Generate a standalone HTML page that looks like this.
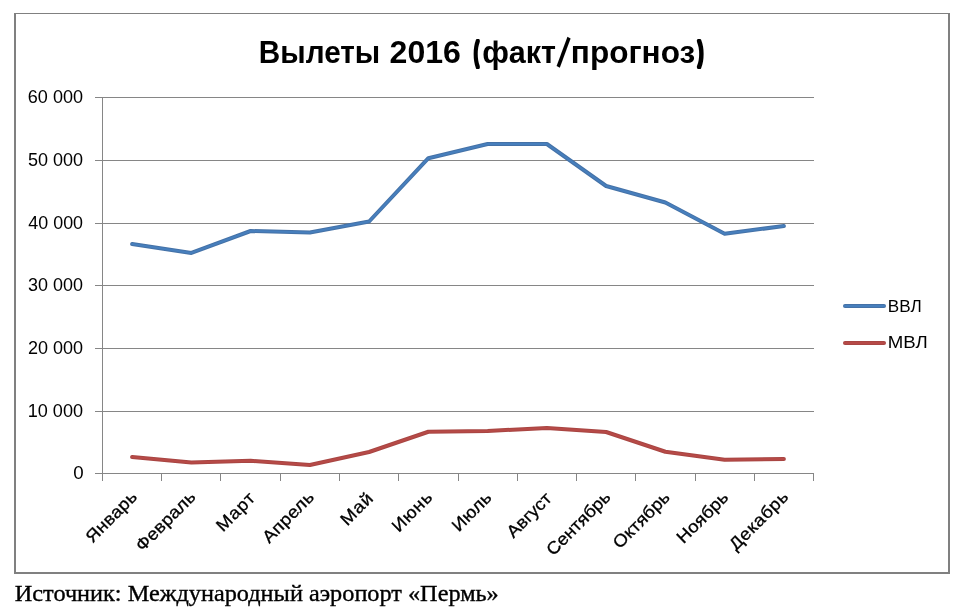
<!DOCTYPE html>
<html lang="ru">
<head>
<meta charset="utf-8">
<title>Вылеты 2016 (факт/прогноз)</title>
<style>
html,body{margin:0;padding:0;background:#fff;}
body{width:960px;height:611px;overflow:hidden;position:relative;}
svg{position:absolute;left:0;top:0;display:block;}
text{fill:#000;white-space:pre;}
.ax,.axm{font-family:"Liberation Sans","DejaVu Sans",sans-serif;}
.axm{stroke:#000;stroke-width:0.3px;}
.title{font-family:"Liberation Sans","DejaVu Sans",sans-serif;font-weight:bold;}
.tp{stroke:#000;stroke-width:4.2px;stroke-linejoin:round;}
.cap{font-family:"Liberation Serif","DejaVu Serif",serif;stroke:#000;stroke-width:0.35px;}
</style>
</head>
<body>
<svg width="960" height="611" viewBox="0 0 960 611">
<rect id="bg" x="0" y="0" width="960" height="611" fill="#ffffff"/>
<g id="border" fill="#808080">
<rect x="14" y="13" width="936" height="1"/>
<rect x="14" y="13" width="2" height="561"/>
<rect x="948" y="13" width="2" height="561"/>
<rect x="14" y="572" width="936" height="2"/>
</g>
<g id="grid" fill="#868686">
<rect x="95" y="97" width="719" height="1"/>
<rect x="95" y="160" width="719" height="1"/>
<rect x="95" y="223" width="719" height="1"/>
<rect x="95" y="285" width="719" height="1"/>
<rect x="95" y="348" width="719" height="1"/>
<rect x="95" y="411" width="719" height="1"/>
<rect x="95" y="473" width="719" height="1"/>
<rect x="102" y="97" width="1" height="377"/>
<rect x="102" y="474" width="1" height="7"/>
<rect x="161" y="474" width="1" height="7"/>
<rect x="220" y="474" width="1" height="7"/>
<rect x="280" y="474" width="1" height="7"/>
<rect x="339" y="474" width="1" height="7"/>
<rect x="398" y="474" width="1" height="7"/>
<rect x="458" y="474" width="1" height="7"/>
<rect x="517" y="474" width="1" height="7"/>
<rect x="576" y="474" width="1" height="7"/>
<rect x="635" y="474" width="1" height="7"/>
<rect x="695" y="474" width="1" height="7"/>
<rect x="754" y="474" width="1" height="7"/>
<rect x="813" y="474" width="1" height="7"/>
</g>
<g id="sblue" fill="none" stroke-linecap="round" stroke-linejoin="round"><polyline stroke="#4572a7" stroke-width="4" points="132.12,244.00 191.38,252.90 250.62,231.00 309.88,232.50 369.12,221.50 428.38,158.20 487.62,144.00 546.88,144.00 606.12,186.00 665.38,202.50 724.62,233.75 783.88,226.00"/><polyline stroke="#477fbd" stroke-width="2" points="132.12,244.00 191.38,252.90 250.62,231.00 309.88,232.50 369.12,221.50 428.38,158.20 487.62,144.00 546.88,144.00 606.12,186.00 665.38,202.50 724.62,233.75 783.88,226.00"/></g>
<g id="sred" fill="none" stroke-linecap="round" stroke-linejoin="round"><polyline stroke="#a84643" stroke-width="4" points="132.12,457.00 191.38,462.50 250.62,460.75 309.88,465.00 369.12,452.00 428.38,431.75 487.62,431.00 546.88,428.00 606.12,432.00 665.38,451.75 724.62,459.75 783.88,459.00"/><polyline stroke="#b74a47" stroke-width="2" points="132.12,457.00 191.38,462.50 250.62,460.75 309.88,465.00 369.12,452.00 428.38,431.75 487.62,431.00 546.88,428.00 606.12,432.00 665.38,451.75 724.62,459.75 783.88,459.00"/></g>
<g id="lg0" fill="none" stroke-linecap="round"><line x1="845" y1="306" x2="884" y2="306" stroke="#4572a7" stroke-width="4"/><line x1="845" y1="306" x2="884" y2="306" stroke="#477fbd" stroke-width="2"/></g>
<g id="lg1" fill="none" stroke-linecap="round"><line x1="845" y1="343" x2="884" y2="343" stroke="#a84643" stroke-width="4"/><line x1="845" y1="343" x2="884" y2="343" stroke="#b74a47" stroke-width="2"/></g>
<text id="title" class="title" font-size="31"><tspan id="t0" x="258.86" y="63" font-size="31.6" textLength="121.35" lengthAdjust="spacingAndGlyphs">Вылеты</tspan> <tspan id="t1" x="389.55" y="63" font-size="32.2" textLength="71.33" lengthAdjust="spacingAndGlyphs">2016</tspan> <tspan id="t2" class="tp" x="473.96" y="61" font-size="28" textLength="4.82" lengthAdjust="spacingAndGlyphs">(</tspan><tspan id="t3" x="482.15" y="63" font-size="30.8" textLength="73.88" lengthAdjust="spacingAndGlyphs">факт</tspan><tspan id="t4" x="556.40" y="65" font-size="44.5" rotate="19" textLength="8.00" lengthAdjust="spacingAndGlyphs">/</tspan><tspan id="t5" x="570.89" y="63" font-size="30.8" textLength="124.34" lengthAdjust="spacingAndGlyphs">прогноз</tspan><tspan id="t6" class="tp" x="698.10" y="61" font-size="28" textLength="5.23" lengthAdjust="spacingAndGlyphs">)</tspan></text>
<text id="y0" class="ax" text-anchor="end" font-size="18" transform="translate(83.00,103.00) scale(1.0038,1)">60 000</text>
<text id="y1" class="ax" text-anchor="end" font-size="18" transform="translate(83.00,166.00) scale(1.0019,1)">50 000</text>
<text id="y2" class="ax" text-anchor="end" font-size="18" transform="translate(83.00,229.00) scale(0.9927,1)">40 000</text>
<text id="y3" class="ax" text-anchor="end" font-size="18" transform="translate(83.00,291.00) scale(0.9972,1)">30 000</text>
<text id="y4" class="ax" text-anchor="end" font-size="18" transform="translate(83.00,354.00) scale(1.0019,1)">20 000</text>
<text id="y5" class="ax" text-anchor="end" font-size="18" transform="translate(83.00,417.00) scale(1.0047,1)">10 000</text>
<text id="y6" class="ax" text-anchor="end" font-size="18" transform="translate(83.63,479.00) scale(1.0407,1)">0</text>
<text id="m0" class="axm" text-anchor="end" font-size="17.2" letter-spacing="0.173" transform="translate(138.22,497.90) rotate(-45) scale(1.0800,1)">Январь</text>
<text id="m1" class="axm" text-anchor="end" font-size="17.2" letter-spacing="0.164" transform="translate(196.78,497.90) rotate(-45) scale(1.0800,1)">Февраль</text>
<text id="m2" class="axm" text-anchor="end" font-size="17.2" letter-spacing="0.724" transform="translate(256.53,498.75) rotate(-45) scale(1.0800,1)">Март</text>
<text id="m3" class="axm" text-anchor="end" font-size="17.2" letter-spacing="0.335" transform="translate(315.28,497.90) rotate(-45) scale(1.0800,1)">Апрель</text>
<text id="m4" class="axm" text-anchor="end" font-size="17.2" letter-spacing="0.636" transform="translate(374.47,499.25) rotate(-45) scale(1.0800,1)">Май</text>
<text id="m5" class="axm" text-anchor="end" font-size="17.2" letter-spacing="0.477" transform="translate(433.62,498.15) rotate(-45) scale(1.0800,1)">Июнь</text>
<text id="m6" class="axm" text-anchor="end" font-size="17.2" letter-spacing="0.182" transform="translate(492.78,498.40) rotate(-45) scale(1.0800,1)">Июль</text>
<text id="m7" class="axm" text-anchor="end" font-size="17.2" letter-spacing="-0.110" transform="translate(552.62,499.65) rotate(-45) scale(1.0800,1)">Август</text>
<text id="m8" class="axm" text-anchor="end" font-size="17.2" letter-spacing="-0.094" transform="translate(611.52,498.15) rotate(-45) scale(1.0800,1)">Сентябрь</text>
<text id="m9" class="axm" text-anchor="end" font-size="17.2" letter-spacing="0.070" transform="translate(670.93,498.35) rotate(-45) scale(1.0800,1)">Октябрь</text>
<text id="m10" class="axm" text-anchor="end" font-size="17.2" letter-spacing="0.088" transform="translate(729.52,498.40) rotate(-45) scale(1.0800,1)">Ноябрь</text>
<text id="m11" class="axm" text-anchor="end" font-size="17.2" letter-spacing="0.441" transform="translate(789.62,497.65) rotate(-45) scale(1.0800,1)">Декабрь</text>
<text id="l0" class="ax" font-size="17" transform="translate(887.74,312.00) scale(1.0080,1)">ВВЛ</text>
<text id="l1" class="ax" font-size="17" transform="translate(887.78,348.00) scale(1.0971,1)">МВЛ</text>
<text id="c0" class="cap" font-size="22.6" transform="translate(14.80,601.00) scale(1.0747,1)">Источник: Международный аэропорт «Пермь»</text>
</svg>
</body>
</html>
